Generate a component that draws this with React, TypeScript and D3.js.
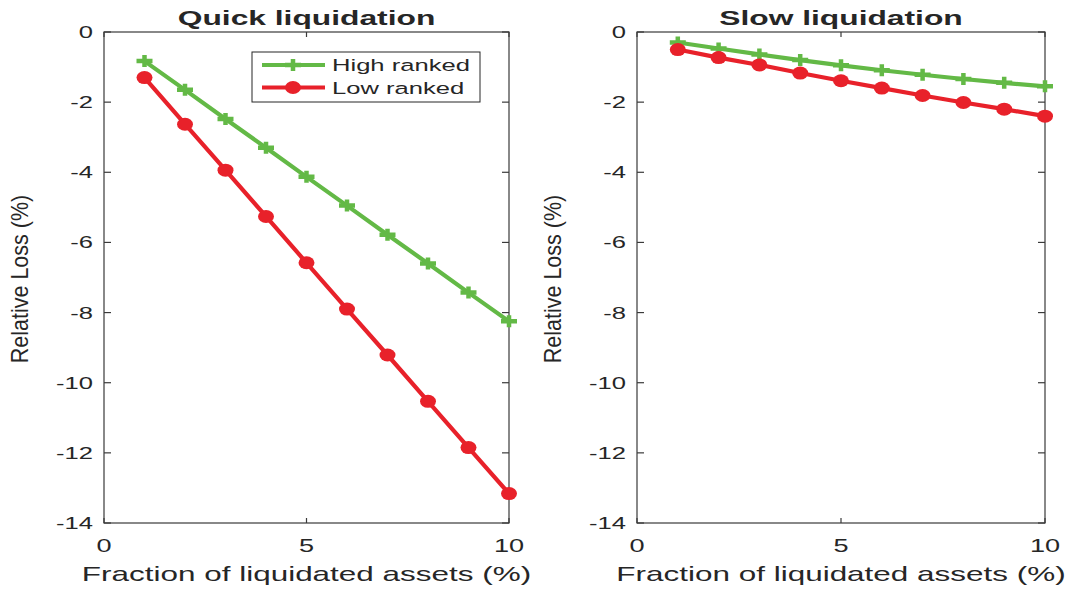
import React, { useEffect, useRef } from 'react';
import * as d3 from 'd3';

const fractions = [1, 2, 3, 4, 5, 6, 7, 8, 9, 10];
const quickHigh = [-0.83, -1.65, -2.48, -3.3, -4.13, -4.95, -5.78, -6.6, -7.43, -8.25];
const quickLow = [-1.3, -2.63, -3.94, -5.26, -6.58, -7.9, -9.21, -10.53, -11.85, -13.16];
const slowHigh = [-0.3, -0.47, -0.64, -0.8, -0.95, -1.09, -1.22, -1.34, -1.45, -1.55];
const slowLow = [-0.5, -0.73, -0.94, -1.17, -1.39, -1.6, -1.81, -2.01, -2.2, -2.4];
const xTicks = [0, 5, 10];
const yTicks = [0, -2, -4, -6, -8, -10, -12, -14];
const seriesNames = ['High ranked', 'Low ranked'];
const panelTitles = ['Quick liquidation', 'Slow liquidation'];

const GREEN = '#63b946';
const RED = '#e8212a';
const INK = '#262626';
const SX = 1.55; // the reference text is stretched sideways
const FONT = '"Liberation Sans", Arial, sans-serif';

const App = () => {
  const ref = useRef<SVGSVGElement>(null);

  useEffect(() => {
    const svg = d3.select(ref.current);
    svg.selectAll('*').remove();

    const top = 32;
    const bottom = 523;
    const panels = [
      { left: 104, right: 509, title: panelTitles[0], high: quickHigh, low: quickLow, legend: true },
      { left: 637, right: 1045, title: panelTitles[1], high: slowHigh, low: slowLow, legend: false },
    ];

    const stretchedText = (g, x, y, txt, size, anchor, weight = 'normal') =>
      g.append('text')
        .attr('transform', `translate(${x},${y}) scale(${SX},1)`)
        .attr('text-anchor', anchor)
        .attr('font-family', FONT)
        .attr('font-size', size)
        .attr('font-weight', weight)
        .attr('fill', INK)
        .text(txt);

    const plusMarker = (g, x, y) => {
      g.append('path')
        .attr('d', `M${x - 8},${y}H${x + 8}M${x},${y - 6}V${y + 6}`)
        .attr('stroke', GREEN)
        .attr('stroke-width', 4.5)
        .attr('fill', 'none');
    };
    const dotMarker = (g, x, y) => {
      g.append('ellipse')
        .attr('cx', x).attr('cy', y)
        .attr('rx', 8).attr('ry', 6.5)
        .attr('fill', RED);
    };

    panels.forEach(p => {
      const g = svg.append('g');
      const x = d3.scaleLinear().domain([0, 10]).range([p.left, p.right]);
      const y = d3.scaleLinear().domain([-14, 0]).range([bottom, top]);

      // box
      g.append('rect')
        .attr('x', p.left).attr('y', top)
        .attr('width', p.right - p.left).attr('height', bottom - top)
        .attr('fill', 'none').attr('stroke', '#3a3a3a').attr('stroke-width', 1.2);

      // ticks, inside, on all four sides
      xTicks.forEach(t => {
        g.append('line').attr('x1', x(t)).attr('x2', x(t)).attr('y1', bottom).attr('y2', bottom - 5)
          .attr('stroke', '#3a3a3a').attr('stroke-width', 1.2);
        g.append('line').attr('x1', x(t)).attr('x2', x(t)).attr('y1', top).attr('y2', top + 5)
          .attr('stroke', '#3a3a3a').attr('stroke-width', 1.2);
        stretchedText(g, x(t), 552, String(t), 17.5, 'middle');
      });
      yTicks.forEach(t => {
        g.append('line').attr('x1', p.left).attr('x2', p.left + 7).attr('y1', y(t)).attr('y2', y(t))
          .attr('stroke', '#3a3a3a').attr('stroke-width', 1.2);
        g.append('line').attr('x1', p.right).attr('x2', p.right - 7).attr('y1', y(t)).attr('y2', y(t))
          .attr('stroke', '#3a3a3a').attr('stroke-width', 1.2);
        stretchedText(g, p.left - 11, y(t) + 6, String(t), 16.5, 'end');
      });

      // titles and labels
      const mid = (p.left + p.right) / 2;
      stretchedText(g, mid, 25, p.title, 20.5, 'middle', 'bold');
      stretchedText(g, mid, 581, 'Fraction of liquidated assets (%)', 20.3, 'middle');
      g.append('text')
        .attr('transform', `translate(${p.left - 76},${279}) rotate(-90) scale(1,1.12)`)
        .attr('text-anchor', 'middle')
        .attr('font-family', FONT)
        .attr('font-size', 21.5)
        .attr('fill', INK)
        .text('Relative Loss (%)');

      // lines
      const line = d3.line<number>()
        .x((d, i) => x(fractions[i]))
        .y(d => y(d));
      g.append('path').datum(p.high).attr('d', line)
        .attr('fill', 'none').attr('stroke', GREEN).attr('stroke-width', 4.2).attr('stroke-linejoin', 'round');
      p.high.forEach((v, i) => plusMarker(g, x(fractions[i]), y(v)));
      g.append('path').datum(p.low).attr('d', line)
        .attr('fill', 'none').attr('stroke', RED).attr('stroke-width', 4.2).attr('stroke-linejoin', 'round');
      p.low.forEach((v, i) => dotMarker(g, x(fractions[i]), y(v)));

      if (p.legend) {
        const lg = g.append('g');
        lg.append('rect').attr('x', 252).attr('y', 52).attr('width', 228).attr('height', 50)
          .attr('fill', 'white').attr('stroke', INK).attr('stroke-width', 1);
        [GREEN, RED].forEach((c, i) => {
          const ly = 65 + i * 22.5;
          lg.append('line').attr('x1', 262).attr('x2', 325).attr('y1', ly).attr('y2', ly)
            .attr('stroke', c).attr('stroke-width', 4.2);
          if (i === 0) plusMarker(lg, 293, ly); else dotMarker(lg, 293, ly);
          stretchedText(lg, 332, ly + 6, seriesNames[i], 16.5, 'start');
        });
      }
    });
  }, []);

  return (
    <svg ref={ref} width={1066} height={590}
      style={{ position: 'absolute', left: 0, top: 0, background: 'white' }} />
  );
};

export default App;
